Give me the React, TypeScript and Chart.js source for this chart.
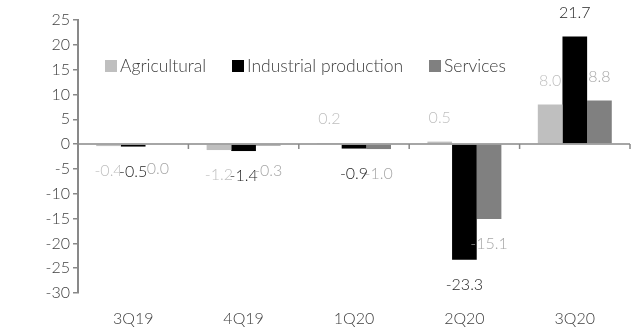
import React, { useEffect, useRef } from "react";
import { Chart, registerables } from "chart.js";

Chart.register(...registerables);

const categories = ["3Q19", "4Q19", "1Q20", "2Q20", "3Q20"];
const agricultural = [-0.4, -1.2, 0.2, 0.5, 8.0];
const industrial = [-0.5, -1.4, -0.9, -23.3, 21.7];
const services = [0.0, -0.3, -1.0, -15.1, 8.8];
const seriesNames = ["Agricultural", "Industrial production", "Services"];
const barColors = ["#BFBFBF", "#000000", "#808080"];
const labelColors = ["#BFBFBF", "#262626", "#A6A6A6"];
const yMin = -30;
const yMax = 25;
const yStep = 5;

const FONT = "Lato";
const TEXT = "#404040";

const zeroLinePlugin = {
  id: "zeroLine",
  afterDatasetsDraw(chart: any) {
    const { ctx, chartArea, scales } = chart;
    const y0 = scales.y.getPixelForValue(0);
    ctx.save();
    ctx.strokeStyle = "#898989";
    ctx.lineWidth = 1.5;
    ctx.beginPath();
    ctx.moveTo(chartArea.left, y0);
    ctx.lineTo(chartArea.right, y0);
    const n = categories.length;
    const w = (chartArea.right - chartArea.left) / n;
    for (let i = 1; i <= n; i++) {
      const x = chartArea.left + w * i;
      ctx.moveTo(x, y0);
      ctx.lineTo(x, y0 + 5);
    }
    ctx.stroke();
    ctx.restore();
  },
};

const labelPlugin = {
  id: "barLabels",
  afterDatasetsDraw(chart: any) {
    const { ctx } = chart;
    ctx.save();
    ctx.font = `300 16px ${FONT}`;
    ctx.textAlign = "center";
    ctx.textBaseline = "middle";
    chart.data.datasets.forEach((ds: any, di: number) => {
      const meta = chart.getDatasetMeta(di);
      ctx.fillStyle = labelColors[di];
      meta.data.forEach((bar: any, i: number) => {
        const v = ds.data[i];
        const y = v > 0 ? bar.y - 24 : bar.y + 25;
        ctx.fillText(v.toFixed(1), bar.x, y);
      });
    });
    ctx.restore();
  },
};

const legendPlugin = {
  id: "customLegend",
  afterDraw(chart: any) {
    const { ctx, chartArea } = chart;
    const xs = [105, 232, 429];
    const yc = chartArea.top + 46;
    ctx.save();
    ctx.font = `300 17.5px ${FONT}`;
    ctx.textBaseline = "middle";
    ctx.textAlign = "left";
    seriesNames.forEach((name, i) => {
      const x = xs[i];
      ctx.fillStyle = barColors[i];
      ctx.fillRect(x, yc - 6, 12, 12);
      ctx.fillStyle = TEXT;
      ctx.fillText(name, x + 15, yc);
    });
    ctx.restore();
  },
};

export default function App() {
  const ref = useRef<HTMLCanvasElement>(null);
  useEffect(() => {
    document.body.style.margin = "0";
    const chart = new Chart(ref.current!, {
      type: "bar",
      data: {
        labels: categories,
        datasets: [agricultural, industrial, services].map((d, i) => ({
          label: seriesNames[i],
          data: d,
          backgroundColor: barColors[i],
          borderWidth: 0,
          categoryPercentage: 0.67,
          barPercentage: 1,
        })),
      },
      options: {
        animation: false,
        responsive: false,
        maintainAspectRatio: false,
        layout: { padding: { top: 20, right: 2, left: 0, bottom: 0 } },
        plugins: { legend: { display: false }, tooltip: { enabled: false } },
        scales: {
          x: {
            grid: { display: false, drawTicks: false },
            border: { display: false },
            ticks: {
              color: TEXT,
              font: { family: FONT, size: 16, weight: "300" as any },
              padding: 16,
            },
            afterFit(scale: any) {
              scale.height = 40;
            },
          },
          y: {
            min: yMin,
            max: yMax,
            grid: {
              drawOnChartArea: false,
              drawTicks: true,
              tickLength: 5,
              color: "#898989",
              lineWidth: 1.5,
            },
            border: { display: true, color: "#898989", width: 2 },
            ticks: {
              stepSize: yStep,
              color: TEXT,
              font: { family: FONT, size: 16, weight: "300" as any },
              padding: 3,
            },
            afterFit(scale: any) {
              scale.width = 78;
            },
          },
        },
      },
      plugins: [zeroLinePlugin, labelPlugin, legendPlugin],
    });
    return () => chart.destroy();
  }, []);
  return <canvas ref={ref} width={632} height={333} style={{ display: "block" }} />;
}
